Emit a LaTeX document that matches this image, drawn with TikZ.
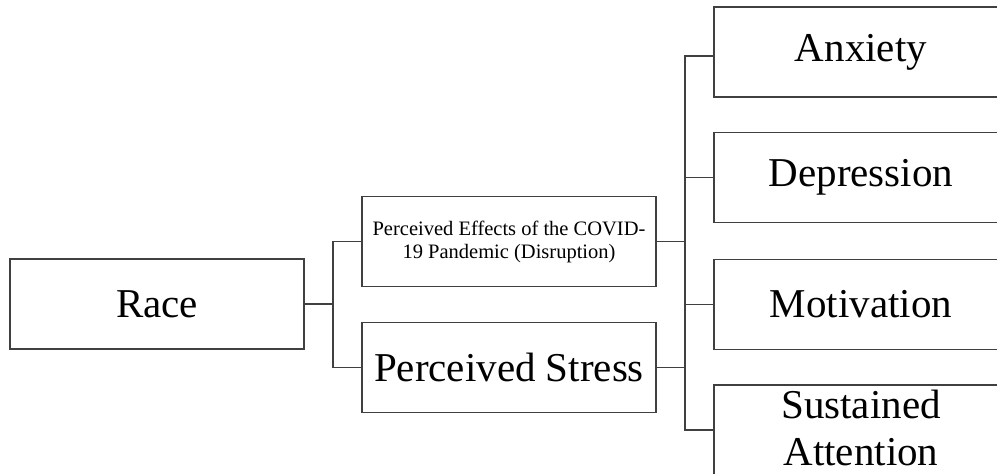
\documentclass[tikz,border=0pt]{standalone}
\usepackage{fontspec}
\setmainfont{Liberation Serif}

\tikzset{
  varbox/.style={draw=black!75, line width=1.2pt, minimum width=294pt,
    minimum height=90pt, inner sep=0pt, align=center,
    font=\fontsize{41}{47}\selectfont},
  smalltext/.style={font=\fontsize{20.5}{23}\selectfont},
  link/.style={draw=black!75, line width=1.2pt}
}

\begin{document}
\begin{tikzpicture}[x=1pt,y=-1pt]

  \clip (0,0) rectangle (997,474);

  %% predictor
  \node[varbox] (race) at (157,304) {Race};

  %% mediators
  \node[varbox, smalltext] (pe) at (509,241.5)
  {Perceived Effects of the COVID-\\19 Pandemic (Disruption)};
  \node[varbox] (ps) at (509,367.5) {Perceived Stress};

  %% outcomes
  \node[varbox] (anx) at (861,52) {Anxiety};
  \node[varbox] (dep) at (861,177.5) {Depression};
  \node[varbox] (mot) at (861,304.5) {Motivation};
  \node[varbox] (sus) at (861,430) {Sustained\\Attention\rule[-5pt]{0pt}{5pt}};

  %% race to mediators
  \coordinate (j1) at (333,304);
  \draw[link] (race.east) -- (j1) |- (pe.west);
  \draw[link] (j1) |- (ps.west);

  %% mediators to outcomes
  \coordinate (j2) at (685,241.5);
  \draw[link] (pe.east) -- (j2);
  \draw[link] (ps.east) -- (ps.east -| j2);
  \draw[link] ([yshift=-4pt]anx.west) -| (j2) |- (sus.west);
  \draw[link] (dep.west) -- (dep.west -| j2);
  \draw[link] (mot.west) -- (mot.west -| j2);

\end{tikzpicture}
\end{document}
